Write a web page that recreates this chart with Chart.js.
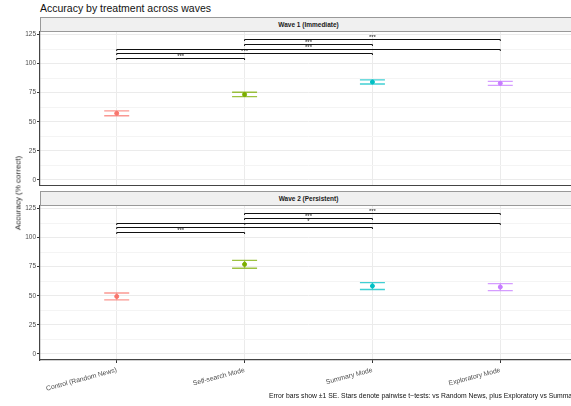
<!DOCTYPE html>
<html lang="en">
<head>
<meta charset="UTF-8" />
<script src="https://cdn.jsdelivr.net/npm/chart.js@4.4.1/dist/chart.umd.min.js"></script>
<title>Accuracy by treatment across waves</title>
<style>
  body{margin:0;width:571px;height:406px;overflow:hidden;background:#fff;position:relative;font-family:"Liberation Sans",Arial,sans-serif}
  #title{position:absolute;left:40px;top:2px;font-size:10.5px;color:#111}
  .strip{position:absolute;left:40px;width:537px;height:15px;background:#f0f0f0;border:1px solid #999;box-sizing:border-box;z-index:1;
         font-size:6.5px;font-weight:bold;text-align:center;line-height:13px;color:#1a1a1a}
  .panel{position:absolute;left:0}
  #ylab{position:absolute;left:18px;top:193px;transform:translate(-50%,-50%) rotate(-90deg);font-size:8px;font-weight:normal;color:#222;white-space:nowrap;z-index:2}
  #caption{position:absolute;left:269px;top:392px;font-size:6.8px;color:#111;white-space:nowrap}
</style>
</head>
<body>
<div id="title">Accuracy by treatment across waves</div>
<div class="strip" style="top:17px">Wave 1 (Immediate)</div>
<div class="strip" style="top:191px">Wave 2 (Persistent)</div>
<canvas id="wave1" class="panel" width="600" height="160" style="top:26px"></canvas>
<canvas id="wave2" class="panel" width="600" height="200" style="top:200px"></canvas>
<div id="ylab">Accuracy (% correct)</div>
<div id="caption">Error bars show ±1 SE. Stars denote pairwise t−tests: vs Random News, plus Exploratory vs Summary</div>

<script>
  // data
  const treatments = ["Control (Random News)", "Self-search Mode", "Summary Mode", "Exploratory Mode"];
  const colors = ["#F8766D", "#7CAE00", "#00BFC4", "#C77CFF"];

  const wave1Mean = [57.2, 73.4, 84.2, 83.0];
  const wave1Lo   = [55.2, 71.6, 82.5, 81.3];
  const wave1Hi   = [59.3, 75.3, 86.0, 84.7];

  const wave2Mean = [49.4, 77.0, 58.4, 57.5];
  const wave2Lo   = [46.4, 73.6, 55.3, 54.4];
  const wave2Hi   = [52.3, 80.4, 61.3, 60.4];

  // pairwise comparisons (1-based treatment index)
  const bracketFrom  = [2, 2, 1, 1, 1];
  const bracketTo    = [4, 3, 4, 3, 2];
  const bracketLevel = [121, 117, 113, 109, 105];
  const wave1Stars = ["***", "***", "***", "***", "***"];
  const wave2Stars = ["***", "***", "*", "*", "***"];

  const yTicks = [0, 25, 50, 75, 100, 125];

  const minorTicks = [];
  yTicks.forEach((v, i) => { minorTicks.push(v); if (i < yTicks.length - 1) minorTicks.push((v + yTicks[i+1]) / 2); });

  function hexA(hex, a) {
    const n = parseInt(hex.slice(1), 16);
    return `rgba(${n>>16},${(n>>8)&255},${n&255},${a})`;
  }

  const errorBars = {
    id: "errorBars",
    beforeDatasetsDraw(chart, args, opts) {
      const {ctx, scales: {x, y}} = chart;
      ctx.save();
      ctx.lineWidth = 1.4;
      opts.lo.forEach((lo, i) => {
        const px = x.getPixelForValue(i + 1);
        const yl = y.getPixelForValue(lo), yh = y.getPixelForValue(opts.hi[i]);
        ctx.strokeStyle = hexA(colors[i], 0.75);
        ctx.beginPath();
        ctx.moveTo(px - 12.5, yl); ctx.lineTo(px + 12.5, yl);
        ctx.moveTo(px - 12.5, yh); ctx.lineTo(px + 12.5, yh);
        ctx.moveTo(px, yl); ctx.lineTo(px, yh);
        ctx.stroke();
      });
      ctx.restore();
    }
  };

  const brackets = {
    id: "brackets",
    afterDatasetsDraw(chart, args, opts) {
      const {ctx, scales: {x, y}} = chart;
      ctx.save();
      ctx.strokeStyle = "#111";
      ctx.fillStyle = "#111";
      ctx.lineWidth = 1;
      ctx.font = "6px 'Liberation Sans', Arial, sans-serif";
      ctx.textAlign = "center";
      ctx.textBaseline = "bottom";
      bracketLevel.forEach((lv, i) => {
        const x1 = x.getPixelForValue(bracketFrom[i]);
        const x2 = x.getPixelForValue(bracketTo[i]);
        const py = Math.round(y.getPixelForValue(lv)) + 0.5;
        ctx.beginPath();
        ctx.moveTo(x1, py + 1.5); ctx.lineTo(x1, py);
        ctx.lineTo(x2, py); ctx.lineTo(x2, py + 1.5);
        ctx.stroke();
        ctx.fillText(opts.stars[i], (x1 + x2) / 2, py + 0.5);
      });
      ctx.restore();
    }
  };

  function makePanel(id, means, lo, hi, stars, showX) {
    return new Chart(document.getElementById(id), {
      type: "scatter",
      data: {
        datasets: [{
          data: means.map((m, i) => ({x: i + 1, y: m})),
          pointBackgroundColor: colors,
          pointBorderColor: colors,
          pointRadius: 2,
          pointStyle: "circle"
        }]
      },
      options: {
        responsive: false,
        animation: false,
        layout: {autoPadding: false, padding: {left: 0, top: 6, right: 23, bottom: 0}},
        plugins: {
          legend: {display: false},
          tooltip: {enabled: false},
          errorBars: {lo: lo, hi: hi},
          brackets: {stars: stars}
        },
        scales: {
          x: {
            type: "linear",
            min: 0.4, max: 4.6,
            afterBuildTicks: s => { s.ticks = treatments.map((t, i) => ({value: i + 1})); },
            afterFit: s => { s.height = showX ? 40 : 0; s.paddingLeft = 0; s.paddingRight = 0; },
            grid: {color: "#ebebeb", lineWidth: 1, drawTicks: showX, tickLength: 3, tickColor: "#333"},
            border: {display: true, color: "#444", width: 1.2},
            ticks: {
              display: showX,
              autoSkip: false,
              minRotation: 15, maxRotation: 15,
              padding: 3,
              color: "#4d4d4d",
              font: {size: 6.8, family: "'Liberation Sans', Arial, sans-serif"},
              callback: v => treatments[v - 1]
            }
          },
          y: {
            min: -5.3, max: 127.2,
            afterBuildTicks: s => { s.ticks = minorTicks.map(v => ({value: v})); },
            afterFit: s => { s.width = 40; s.paddingTop = 0; s.paddingBottom = 0; },
            grid: {
              color: c => (c.tick && c.tick.value % 25 === 0) ? "#ebebeb" : "#f4f4f4",
              lineWidth: 1,
              tickLength: 3,
              tickColor: c => (c.tick && c.tick.value % 25 === 0) ? "#333" : "rgba(0,0,0,0)"
            },
            border: {display: true, color: "#444", width: 1.2},
            ticks: {
              padding: 1,
              color: "#4d4d4d",
              font: {size: 6.5, family: "'Liberation Sans', Arial, sans-serif"},
              callback: v => (v % 25 === 0) ? v : ""
            }
          }
        }
      },
      plugins: [errorBars, brackets]
    });
  }

  makePanel("wave1", wave1Mean, wave1Lo, wave1Hi, wave1Stars, false);
  makePanel("wave2", wave2Mean, wave2Lo, wave2Hi, wave2Stars, true);
</script>
</body>
</html>
